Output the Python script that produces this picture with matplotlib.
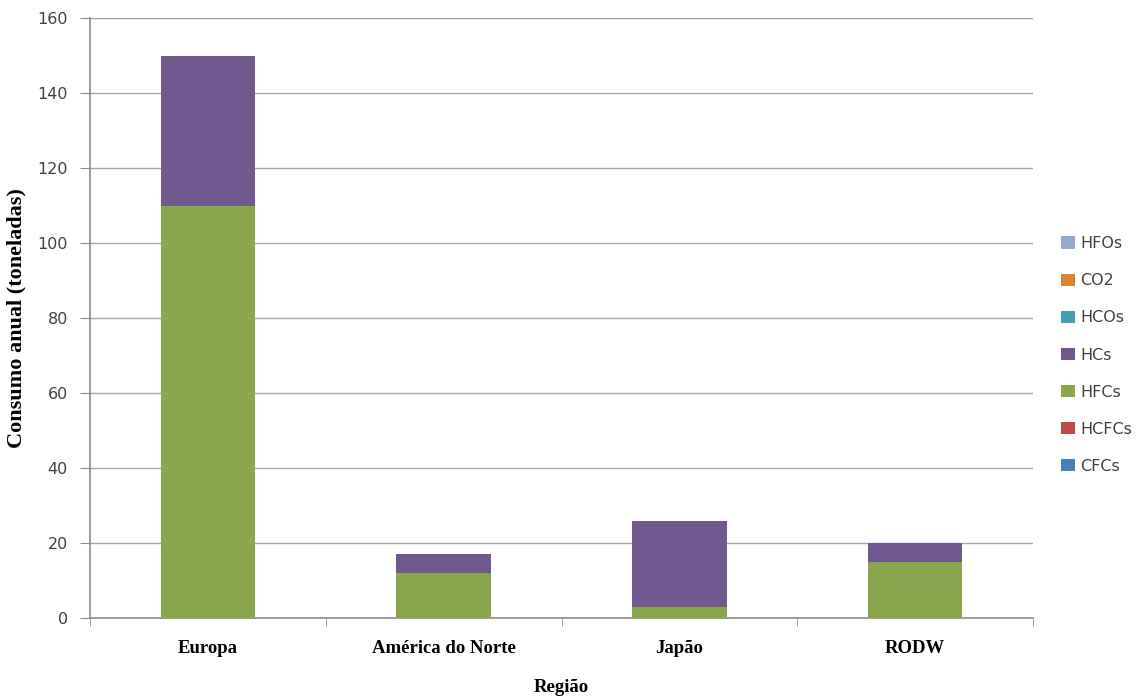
import matplotlib
matplotlib.use("Agg")
import matplotlib.pyplot as plt
from matplotlib.patches import Patch
import numpy as np

regions = ["Europa", "América do Norte", "Japão", "RODW"]
cfcs = [0, 0, 0, 0]
hcfcs = [0, 0, 0, 0]
hfcs = [110, 12, 3, 15]
hcs = [40, 5, 23, 5]
hcos = [0, 0, 0, 0]
co2 = [0, 0, 0, 0]
hfos = [0, 0, 0, 0]
yticks = [0, 20, 40, 60, 80, 100, 120, 140, 160]

series = [("CFCs", cfcs, "#4a7ebb"), ("HCFCs", hcfcs, "#be4b48"),
          ("HFCs", hfcs, "#8aa74e"), ("HCs", hcs, "#71588f"),
          ("HCOs", hcos, "#3fa0b8"), ("CO2", co2, "#e08434"),
          ("HFOs", hfos, "#93a9d0")]

fig = plt.figure(figsize=(11.44, 6.99), dpi=100)
ax = fig.add_axes([90/1144, 81/699, 943/1144, 600/699])

x = np.arange(len(regions))
bottom = np.zeros(len(regions))
for name, vals, col in series:
    v = np.array(vals, dtype=float)
    ax.bar(x, v, width=0.4, bottom=bottom, color=col, zorder=3)
    bottom += v

ax.set_xlim(-0.5, len(regions) - 0.5)
ax.set_ylim(0, 160)
ax.set_yticks(yticks)
ax.yaxis.grid(True, color="#a6a6a6", linewidth=1, zorder=0)
for s in ["top", "right"]:
    ax.spines[s].set_visible(False)
for s in ["left", "bottom"]:
    ax.spines[s].set_color("#8c8c8c")
    ax.spines[s].set_linewidth(1.2)

ax.set_xticks(x)
ax.set_xticklabels(regions, fontfamily="Liberation Serif", fontweight="bold", fontsize=13.5)
ax.tick_params(axis="x", length=0, pad=16)
ax.set_xticks(np.arange(len(regions) + 1) - 0.5, minor=True)
ax.tick_params(axis="x", which="minor", length=6, color="#8c8c8c")
ax.tick_params(axis="y", length=7, color="#8c8c8c", labelsize=11.5, labelcolor="#404040", pad=9)
for lab in ax.get_yticklabels():
    lab.set_fontfamily("DejaVu Sans")

ax.set_xlabel("Região", fontfamily="Liberation Serif", fontweight="bold", fontsize=13.5, labelpad=16)
ax.set_ylabel("Consumo anual (toneladas)", fontfamily="Liberation Serif", fontweight="bold", fontsize=16, labelpad=8)

handles = [Patch(facecolor=col, label=name) for name, vals, col in reversed(series)]
leg = fig.legend(handles=handles, loc="center left", bbox_to_anchor=(1061/1144, 1 - 355/699),
                 frameon=False, fontsize=11.5, handlelength=0.85, handleheight=0.85,
                 handletextpad=0.35, labelspacing=1.38, borderpad=0, borderaxespad=0)
for t in leg.get_texts():
    t.set_color("#404040")

fig.savefig("out.png", dpi=100)
